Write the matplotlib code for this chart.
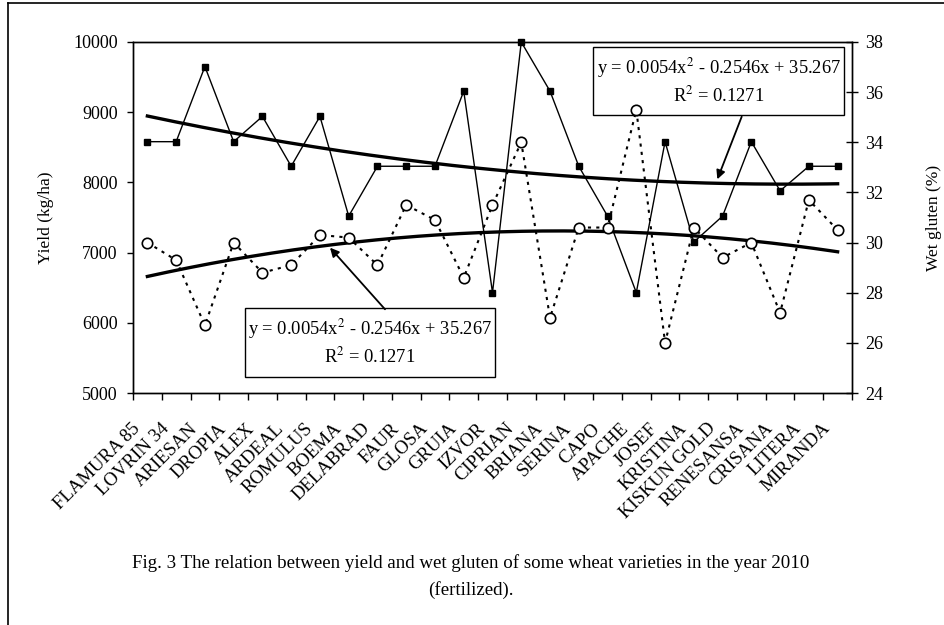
import numpy as np
import matplotlib
matplotlib.use("Agg")
import matplotlib.pyplot as plt
from matplotlib.patches import Rectangle
from matplotlib.lines import Line2D
from matplotlib.transforms import ScaledTranslation

plt.rcParams['font.family'] = ['Liberation Serif', 'DejaVu Serif']
plt.rcParams['mathtext.fontset'] = 'stix'

varieties = ["FLAMURA 85", "LOVRIN 34", "ARIESAN", "DROPIA", "ALEX", "ARDEAL",
             "ROMULUS", "BOEMA", "DELABRAD", "FAUR", "GLOSA", "GRUIA", "IZVOR",
             "CIPRIAN", "BRIANA", "SERINA", "CAPO", "APACHE", "JOSEF", "KRISTINA",
             "KISKUN GOLD", "RENESANSA", "CRISANA", "LITERA", "MIRANDA"]
yield_kg = [8580, 8580, 9650, 8580, 8940, 8230, 8940, 7520, 8230, 8230, 8230, 9300,
            6430, 10000, 9300, 8230, 7520, 6430, 8580, 7150, 7520, 8580, 7880, 8230, 8230]
wet_gluten = [30.0, 29.3, 26.7, 30.0, 28.8, 29.1, 30.3, 30.2, 29.1, 31.5, 30.9, 28.6,
              31.5, 34.0, 27.0, 30.6, 30.6, 35.3, 26.0, 30.6, 29.4, 30.0, 27.2, 31.7, 30.5]
yield_ticks = [5000, 6000, 7000, 8000, 9000, 10000]
gluten_ticks = [24, 26, 28, 30, 32, 34, 36, 38]
eq_text = "y = 0.0054x$^{2}$ - 0.2546x + 35.267"
r2_text = "R$^{2}$ = 0.1271"
caption1 = "Fig. 3 The relation between yield and wet gluten of some wheat varieties in the year 2010"
caption2 = "(fertilized)."

fig = plt.figure(figsize=(9.45, 6.25), dpi=100)
ax = fig.add_axes([133/945, 1-393/625, 719/945, 351/625])
ax2 = ax.twinx()

x = np.arange(len(varieties))
xs = np.linspace(0, len(varieties)-1, 200)

# yield
ax.plot(x, yield_kg, color='black', lw=1.0, marker='s', ms=4.5, mfc='black',
        mec='black', zorder=3, clip_on=False)
cy = np.polyfit(x + 1, yield_kg, 2)
ax.plot(xs, np.polyval(cy, xs + 1), color='black', lw=2.4, zorder=2)

# gluten
ax2.plot(x, wet_gluten, color='black', lw=1.5, ls=(0, (1.5, 2.5)), marker='o', ms=7.5,
         mfc='white', mec='black', mew=1.2, zorder=3, clip_on=False)
cg = np.polyfit(x + 1, wet_gluten, 2)
ax2.plot(xs, np.polyval(cg, xs + 1), color='black', lw=2.4, zorder=2)

ax.set_xlim(-0.5, len(varieties)-0.5)
ax.set_ylim(5000, 10000)
ax2.set_ylim(24, 38)
ax.set_yticks(yield_ticks)
ax.set_yticklabels([str(v) for v in yield_ticks])
ax2.set_yticks(gluten_ticks)
ax2.set_yticklabels([str(v) for v in gluten_ticks])

ax.set_xticks(np.arange(-0.5, len(varieties), 1))
ax.set_xticklabels([])
# category labels, rotated 45 degrees below the axis
lbl_tr = ax.get_xaxis_transform() + ScaledTranslation(-10/100, -33/100, fig.dpi_scale_trans)
for xi, name in zip(x, varieties):
    ax.text(xi, 0, name, transform=lbl_tr, rotation=45, ha='right', va='center',
            rotation_mode='anchor', fontsize=13.5, clip_on=False)

ax.tick_params(axis='x', which='major', direction='out', length=5, width=1)
ax.tick_params(axis='y', direction='out', length=4, width=1, labelsize=13, pad=7)
ax2.tick_params(axis='y', direction='inout', length=9, width=1, labelsize=13, pad=5)

for a in (ax, ax2):
    for s in a.spines.values():
        s.set_linewidth(1.0)

ax.set_ylabel("Yield (kg/ha)", fontsize=12.5)
ax.yaxis.set_label_coords((54-133)/719, 0.5)
ax2.set_ylabel("Wet gluten (%)", fontsize=12.5)
ax2.yaxis.set_label_coords((926-133)/719, 0.5)

# equation boxes
for (x0, y0, x1, y1, ty1, ty2) in [(0.640, 0.792, 0.989, 0.9866, 0.927, 0.849),
                                    (0.1558, 0.0464, 0.5035, 0.2413, 0.1815, 0.1034)]:
    ax2.add_patch(Rectangle((x0, y0), x1-x0, y1-y0, transform=ax2.transAxes,
                            fill=False, ec='black', lw=1.0, zorder=5))
    cx = (x0 + x1) / 2
    ax2.text(cx, ty1, eq_text, transform=ax2.transAxes, ha='center', va='center',
             fontsize=13.3, zorder=6)
    ax2.text(cx, ty2, r2_text, transform=ax2.transAxes, ha='center', va='center',
             fontsize=13.3, zorder=6)

arrow = dict(arrowstyle='-|>', color='black', lw=1.3, mutation_scale=13, shrinkA=0, shrinkB=0)
ax2.annotate("", xy=(0.8127, 0.6088), xytext=(0.8466, 0.7872), xycoords='axes fraction',
             textcoords='axes fraction', arrowprops=arrow, zorder=6)
ax2.annotate("", xy=(0.274, 0.414), xytext=(0.3505, 0.2385), xycoords='axes fraction',
             textcoords='axes fraction', arrowprops=arrow, zorder=6)

fig.text(471/945, 1-563/625, caption1, ha='center', va='center', fontsize=13.6)
fig.text(471/945, 1-590/625, caption2, ha='center', va='center', fontsize=13.6)

# outer frame lines
fig.add_artist(Line2D([8/945, 8/945], [0, 1-3/625], transform=fig.transFigure,
                      color='black', lw=1.2))
fig.add_artist(Line2D([8/945, 1], [1-3/625, 1-3/625], transform=fig.transFigure,
                      color='black', lw=1.2))

fig.savefig("out.png", dpi=100)
